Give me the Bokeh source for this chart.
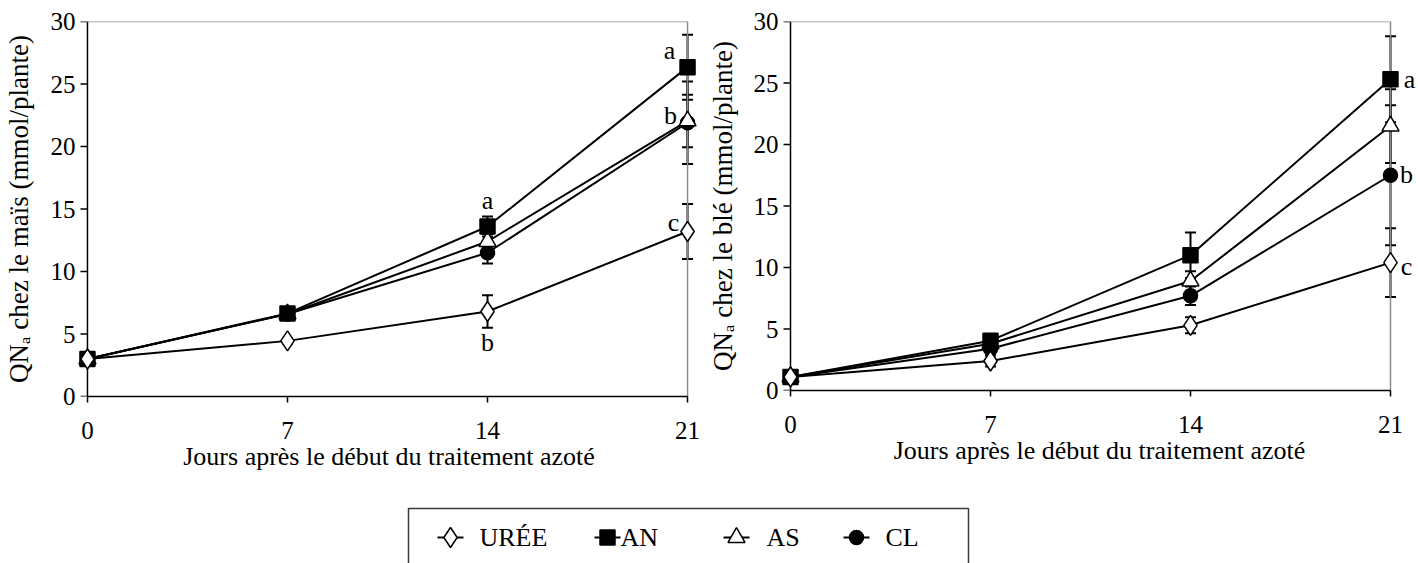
import math
from bokeh.plotting import figure
from bokeh.models import Range1d, Whisker, TeeHead, ColumnDataSource, Label, FixedTicker, Span
from bokeh.layouts import column, row
from bokeh.embed import file_html
from bokeh.resources import INLINE

# ---------------- data ----------------
days = [0, 7, 14, 21]
x_ticks = [0, 7, 14, 21]
y_ticks = [0, 5, 10, 15, 20, 25, 30]
series_names = ["URÉE", "AN", "AS", "CL"]

mais_uree = [3.0, 4.45, 6.8, 13.2]
mais_uree_err = [0.0, 0.2, 1.3, 2.2]
mais_an = [3.0, 6.65, 13.6, 26.35]
mais_an_err = [0.0, 0.3, 0.8, 2.6]
mais_as = [3.0, 6.6, 12.4, 22.05]
mais_as_err = [0.0, 0.3, 0.6, 2.1]
mais_cl = [3.0, 6.6, 11.5, 21.9]
mais_cl_err = [0.0, 0.3, 0.85, 3.3]

ble_uree = [1.1, 2.4, 5.3, 10.4]
ble_uree_err = [0.0, 0.45, 0.65, 2.8]
ble_an = [1.1, 4.05, 11.0, 25.3]
ble_an_err = [0.0, 0.5, 1.85, 3.5]
ble_as = [1.1, 3.8, 8.9, 21.5]
ble_as_err = [0.0, 0.4, 0.8, 3.0]
ble_cl = [1.1, 3.4, 7.7, 17.5]
ble_cl_err = [0.0, 0.3, 0.75, 5.7]

mais_letters_day = [21, 21, 21, 14, 14]
mais_letters_val = [27.7, 22.45, 13.9, 15.66, 4.3]
mais_letters_txt = ["a", "b", "c", "a", "b"]
ble_letters_day = [21, 21, 21]
ble_letters_val = [25.3, 17.6, 10.1]
ble_letters_txt = ["a", "b", "c"]

x_label = "Jours après le début du traitement azoté"
y_label_mais = "QNₐ chez le maïs (mmol/plante)"
y_label_ble = "QNₐ chez le blé (mmol/plante)"

# ---------------- style ----------------
FONT = "Liberation Serif"
styles = {
    "URÉE": dict(marker="diamond", size=20, fill_color="white"),
    "AN": dict(marker="square", size=15, fill_color="black"),
    "AS": dict(marker="triangle", size=17, fill_color="white"),
    "CL": dict(marker="circle", size=14, fill_color="black"),
}
draw_order = ["CL", "AS", "AN", "URÉE"]


def make_panel(width, height, x_start, x_end, mbl, mbt, mbb, values, errors,
               l_day, l_val, l_txt, l_dx, ylab, ylab_standoff):
    p = figure(width=width, height=height, output_backend="svg", toolbar_location=None,
               x_range=Range1d(x_start, x_end), y_range=Range1d(y_ticks[0], y_ticks[-1]),
               min_border_left=mbl, min_border_right=0,
               min_border_top=mbt, min_border_bottom=mbb,
               outline_line_color=None, background_fill_color="white")
    p.grid.visible = False

    # x axis (real axis, bounded to the data days)
    xa = p.xaxis[0]
    xa.ticker = FixedTicker(ticks=x_ticks)
    xa.bounds = (days[0], days[-1])
    xa.axis_line_color = "black"
    xa.axis_line_width = 1.5
    xa.major_tick_line_color = "black"
    xa.major_tick_line_width = 1.5
    xa.minor_tick_line_color = None
    xa.major_tick_in = 0
    xa.major_tick_out = 6
    xa.major_label_standoff = 19
    xa.major_label_text_font = FONT
    xa.major_label_text_font_size = "25px"
    xa.major_label_text_color = "black"
    xa.axis_label = x_label
    xa.axis_label_text_font = FONT
    xa.axis_label_text_font_size = "26px"
    xa.axis_label_text_font_style = "normal"
    xa.axis_label_text_color = "black"
    xa.axis_label_standoff = 0

    # y axis: tick labels + title
    ya = p.yaxis[0]
    ya.ticker = FixedTicker(ticks=y_ticks)
    ya.axis_line_color = None
    ya.major_tick_line_color = None
    ya.minor_tick_line_color = None
    ya.major_tick_in = 0
    ya.major_tick_out = 0
    ya.major_label_standoff = 2
    ya.major_label_text_font = FONT
    ya.major_label_text_font_size = "25px"
    ya.major_label_text_color = "black"
    ya.axis_label = ylab
    ya.axis_label_text_font = FONT
    ya.axis_label_text_font_size = "27px"
    ya.axis_label_text_font_style = "normal"
    ya.axis_label_text_color = "black"
    ya.axis_label_standoff = ylab_standoff

    # y axis line + tick marks at day 0
    p.add_layout(Span(location=days[0], dimension="height", line_color="black",
                      line_width=1.5, level="underlay"))
    p.ray(x=[days[0]] * len(y_ticks), y=y_ticks, length=7, length_units="screen",
          angle=math.pi, line_color="black", line_width=1.5)

    # gray frame lines (top / right)
    p.line(x=[days[0], days[-1], days[-1]], y=[y_ticks[-1], y_ticks[-1], y_ticks[0]],
           line_color="#8c8c8c", line_width=1.5)

    for name in series_names:
        p.line(x=days, y=values[name], line_color="black", line_width=2)
    for name in draw_order:
        v = values[name]
        e = errors[name]
        src = ColumnDataSource(dict(x=days, up=[a + b for a, b in zip(v, e)],
                                    lo=[a - b for a, b in zip(v, e)]))
        w = Whisker(source=src, base="x", upper="up", lower="lo", dimension="height",
                    line_color="black", line_width=2,
                    upper_head=TeeHead(size=11, line_width=2, line_color="black"),
                    lower_head=TeeHead(size=11, line_width=2, line_color="black"))
        p.add_layout(w)
    for name in draw_order:
        st = styles[name]
        p.scatter(x=days, y=values[name], marker=st["marker"], size=st["size"],
                  fill_color=st["fill_color"], line_color="black", line_width=1.5)
    for d, v, t, dx in zip(l_day, l_val, l_txt, l_dx):
        p.add_layout(Label(x=d, y=v, text=t, x_offset=dx, text_align="center",
                           text_baseline="middle", text_font=FONT,
                           text_font_size="26px", text_color="black"))
    return p


mais_vals = {"URÉE": mais_uree, "AN": mais_an, "AS": mais_as, "CL": mais_cl}
mais_errs = {"URÉE": mais_uree_err, "AN": mais_an_err, "AS": mais_as_err, "CL": mais_cl_err}
ble_vals = {"URÉE": ble_uree, "AN": ble_an, "AS": ble_as, "CL": ble_cl}
ble_errs = {"URÉE": ble_uree_err, "AN": ble_an_err, "AS": ble_as_err, "CL": ble_cl_err}

TOP = 21
BOTTOM = 102
left = make_panel(700, TOP + 375 + BOTTOM, -10 / 28.667, 21 + 13 / 28.667, 75, TOP, BOTTOM,
                  mais_vals, mais_errs,
                  mais_letters_day, mais_letters_val, mais_letters_txt,
                  [-18, -17, -14, 0, 0], y_label_mais, 14)
right = make_panel(718, TOP + 369 + BOTTOM, -10 / 28.571, 21 + 28 / 28.571, 80, TOP, BOTTOM,
                   ble_vals, ble_errs,
                   ble_letters_day, ble_letters_val, ble_letters_txt,
                   [19, 16, 16], y_label_ble, 13)

# ---------------- legend ----------------
FIG_H = TOP + 375 + BOTTOM
LEG_H = 563 - FIG_H
leg = figure(width=1418, height=LEG_H, output_backend="svg", toolbar_location=None,
             x_range=Range1d(0, 1418), y_range=Range1d(0, LEG_H), min_border=0,
             x_axis_type=None, y_axis_type=None, outline_line_color=None)
leg.grid.visible = False
leg.quad(left=408, right=968, bottom=-20, top=55, fill_color=None,
         line_color="#3a3a3a", line_width=1.5)
item_x = [450, 607, 736, 856]
text_x = [479, 620, 766, 885]
item_y = 26
for name, mx, tx in zip(series_names, item_x, text_x):
    st = styles[name]
    leg.line(x=[mx - 13, mx + 13], y=[item_y, item_y], line_color="black", line_width=2)
    leg.scatter(x=[mx], y=[item_y], marker=st["marker"], size=st["size"],
                fill_color=st["fill_color"], line_color="black", line_width=1.5)
    leg.add_layout(Label(x=tx, y=item_y, text=name, text_align="left", text_baseline="middle",
                         text_font=FONT, text_font_size="26px", text_color="black"))

layout = column(row(left, right), leg)
open("out.html", "w").write(file_html(layout, INLINE))
